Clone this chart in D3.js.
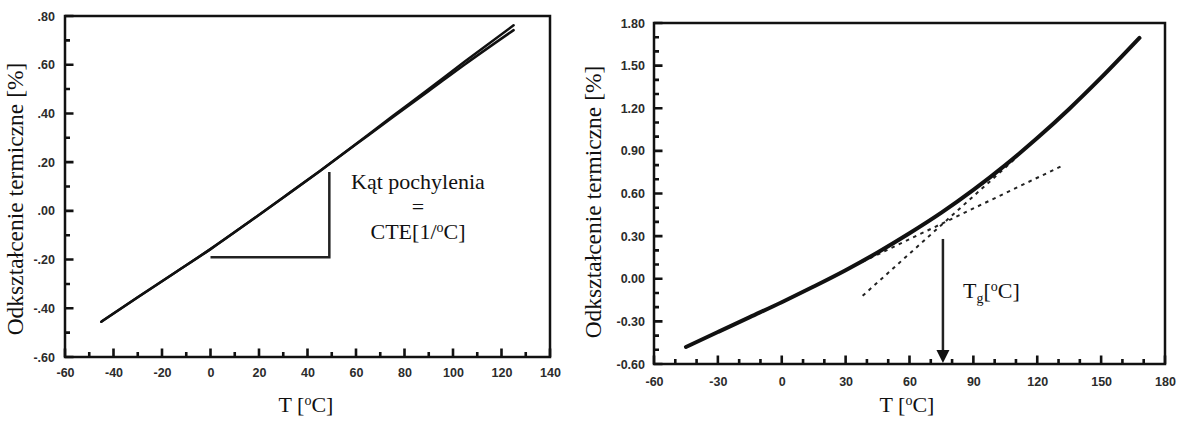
<!DOCTYPE html>
<html>
<head>
<meta charset="utf-8">
<script src="https://cdn.jsdelivr.net/npm/d3@7/dist/d3.min.js"></script>
<style>
  html, body { margin: 0; padding: 0; background: #fff; }
  svg { display: block; }
</style>
</head>
<body>
<svg id="chart" width="1189" height="421"></svg>
<script>
// ---------- DATA ----------
// Left panel: linear thermal strain (two nearly identical runs)
const leftT      = [-45, -30, -15, 0, 15, 30, 45, 60, 75, 90, 105, 125];
const leftRunA   = [-0.455, -0.355, -0.256, -0.157, -0.052, 0.055, 0.163, 0.274, 0.388, 0.500, 0.614, 0.762];
const leftRunB   = [-0.455, -0.355, -0.256, -0.157, -0.052, 0.055, 0.163, 0.273, 0.383, 0.492, 0.602, 0.742];
// slope triangle (T, strain)
const triT = [0, 49];
const triV = [-0.19, 0.16];

// Right panel: strain with glass transition
const rightT     = [-45, -30, -15, 0, 15, 30, 45, 60, 75, 90, 105, 120, 135, 150, 168];
const rightV     = [-0.48, -0.375, -0.27, -0.165, -0.055, 0.06, 0.185, 0.32, 0.465, 0.625, 0.80, 0.99, 1.195, 1.415, 1.695];
// tangent lines (dashed)
const tanGlassT  = [38, 131];
const tanGlassV  = [0.12, 0.79];
const tanRubberT = [38, 110];
const tanRubberV = [-0.12, 0.85];
// Tg arrow
const tgT = 75.7;
const tgArrowTopV = 0.28;

// axis ticks & labels
const leftXTicks  = [-60, -40, -20, 0, 20, 40, 60, 80, 100, 120, 140];
const leftXLabels = ["-60", "-40", "-20", "0", "20", "40", "60", "80", "100", "120", "140"];
const leftXMinor  = [-50, -30, -10, 10, 30, 50, 70, 90, 110, 130];
const leftYTicks  = [-0.6, -0.4, -0.2, 0, 0.2, 0.4, 0.6, 0.8];
const leftYLabels = ["-.60", "-.40", "-.20", ".00", ".20", ".40", ".60", ".80"];
const leftYMinor  = [-0.5, -0.3, -0.1, 0.1, 0.3, 0.5, 0.7];

const rightXTicks  = [-60, -30, 0, 30, 60, 90, 120, 150, 180];
const rightXLabels = ["-60", "-30", "0", "30", "60", "90", "120", "150", "180"];
const rightXMinor  = [-50, -40, -20, -10, 10, 20, 40, 50, 70, 80, 100, 110, 130, 140, 160, 170];
const rightYTicks  = [-0.6, -0.3, 0, 0.3, 0.6, 0.9, 1.2, 1.5, 1.8];
const rightYLabels = ["-0.60", "-0.30", "0.00", "0.30", "0.60", "0.90", "1.20", "1.50", "1.80"];
const rightYMinor  = [-0.5, -0.4, -0.2, -0.1, 0.1, 0.2, 0.4, 0.5, 0.7, 0.8, 1.0, 1.1, 1.3, 1.4, 1.6, 1.7];

const yTitle = "Odkształcenie termiczne [%]";

// ---------- DRAW ----------
const svg = d3.select("#chart");
const serif = "'Liberation Serif', 'Times New Roman', serif";
const sans = "'Liberation Sans', Arial, sans-serif";
const INK = "#111";

function panel(cfg) {
  const x = d3.scaleLinear().domain(cfg.xDomain).range(cfg.xRange);
  const y = d3.scaleLinear().domain(cfg.yDomain).range(cfg.yRange);
  const g = svg.append("g");
  const x0 = cfg.xRange[0], y0 = cfg.yRange[0];

  // frame
  g.append("rect")
    .attr("x", x0).attr("y", cfg.yRange[1])
    .attr("width", cfg.xRange[1] - x0)
    .attr("height", y0 - cfg.yRange[1])
    .attr("fill", "none").attr("stroke", INK).attr("stroke-width", 2.5);

  // inward ticks, positions from the scales
  const majX = cfg.xTicks.map(d => `M${x(d)},${y0}v-8.5`).join("");
  const minX = cfg.xMinor.map(d => `M${x(d)},${y0}v-5`).join("");
  const majY = cfg.yTicks.map(d => `M${x0},${y(d)}h8.5`).join("");
  const minY = cfg.yMinor.map(d => `M${x0},${y(d)}h5`).join("");
  g.append("path").attr("d", majX + minX + majY + minY)
    .attr("fill", "none").attr("stroke", INK).attr("stroke-width", 2.6);

  // tick labels via d3 axes
  const xa = g.append("g").attr("transform", `translate(0,${y0})`)
    .call(d3.axisBottom(x).tickValues(cfg.xTicks).tickSize(0).tickPadding(cfg.xPad)
      .tickFormat((d, i) => cfg.xLabels[i]));
  const ya = g.append("g").attr("transform", `translate(${x0},0)`)
    .call(d3.axisLeft(y).tickValues(cfg.yTicks).tickSize(0).tickPadding(cfg.yPad)
      .tickFormat((d, i) => cfg.yLabels[i]));
  [xa, ya].forEach(a => {
    a.select(".domain").remove();
    a.selectAll(".tick line").remove();
    a.selectAll(".tick text")
      .attr("font-family", sans).attr("font-weight", "bold").attr("font-size", 12.5)
      .attr("fill", "#2b2b2b");
  });

  // titles
  g.append("text")
    .attr("transform", `translate(${cfg.yTitleX},${cfg.yTitleY}) rotate(-90)`)
    .attr("text-anchor", "middle")
    .attr("font-family", serif).attr("font-size", 23.5).attr("fill", INK)
    .text(yTitle);
  const xt = g.append("text")
    .attr("x", cfg.xTitleX).attr("y", cfg.xTitleY)
    .attr("text-anchor", "middle")
    .attr("font-family", serif).attr("font-size", 22).attr("fill", INK);
  xt.append("tspan").text("T [");
  xt.append("tspan").attr("font-size", 14).attr("dy", -7).text("o");
  xt.append("tspan").attr("dy", 7).text("C]");

  return { g, x, y };
}

// ----- Left panel -----
const L = panel({
  xDomain: [-60, 140], xRange: [65, 550],
  yDomain: [-0.6, 0.8], yRange: [357, 16],
  xTicks: leftXTicks, xLabels: leftXLabels, xMinor: leftXMinor,
  yTicks: leftYTicks, yLabels: leftYLabels, yMinor: leftYMinor,
  xPad: 11, yPad: 10,
  yTitleX: 23, yTitleY: 199,
  xTitleX: 306, xTitleY: 412
});

const lineL = d3.line().x((d, i) => L.x(leftT[i])).y(d => L.y(d)).curve(d3.curveMonotoneX);
[leftRunA, leftRunB].forEach(run => {
  L.g.append("path").attr("d", lineL(run))
    .attr("fill", "none").attr("stroke", INK).attr("stroke-width", 2.5).attr("stroke-linecap", "round");
});

// slope triangle
L.g.append("path")
  .attr("d", `M${L.x(triT[0])},${L.y(triV[0])}H${L.x(triT[1])}V${L.y(triV[1])}`)
  .attr("fill", "none").attr("stroke", "#222").attr("stroke-width", 2.5);

// slope annotation (one multi-line text)
const annX = 418;
const ann = L.g.append("text").attr("x", annX).attr("y", 189).attr("text-anchor", "middle")
  .attr("font-family", serif).attr("font-size", 22).attr("fill", INK);
ann.append("tspan").attr("x", annX).text("Kąt pochylenia");
ann.append("tspan").attr("x", annX).attr("dy", 25).text("=");
ann.append("tspan").attr("x", annX).attr("dy", 25).text("CTE[1/");
ann.append("tspan").attr("font-size", 14).attr("dy", -7).text("o");
ann.append("tspan").attr("dy", 7).text("C]");

// ----- Right panel -----
const R = panel({
  xDomain: [-60, 180], xRange: [654, 1165],
  yDomain: [-0.6, 1.8], yRange: [364, 23],
  xTicks: rightXTicks, xLabels: rightXLabels, xMinor: rightXMinor,
  yTicks: rightYTicks, yLabels: rightYLabels, yMinor: rightYMinor,
  xPad: 13, yPad: 9,
  yTitleX: 601, yTitleY: 202,
  xTitleX: 907, xTitleY: 412
});

// tangents (dashed)
[[tanGlassT, tanGlassV], [tanRubberT, tanRubberV]].forEach(([ts, vs]) => {
  R.g.append("path")
    .attr("d", d3.line().x((d, i) => R.x(ts[i])).y(d => R.y(d))(vs))
    .attr("fill", "none").attr("stroke", "#222").attr("stroke-width", 2)
    .attr("stroke-dasharray", "3.5,4.5");
});

const lineR = d3.line().x((d, i) => R.x(rightT[i])).y(d => R.y(d)).curve(d3.curveMonotoneX);
R.g.append("path").attr("d", lineR(rightV))
  .attr("fill", "none").attr("stroke", INK).attr("stroke-width", 4).attr("stroke-linecap", "round");

// Tg arrow
const ax = R.x(tgT);
const axisY = R.y(-0.6);
R.g.append("line")
  .attr("x1", ax).attr("x2", ax)
  .attr("y1", R.y(tgArrowTopV)).attr("y2", axisY - 10)
  .attr("stroke", "#222").attr("stroke-width", 2.5);
R.g.append("path")
  .attr("d", `M${ax - 6.5},${axisY - 14}L${ax + 6.5},${axisY - 14}L${ax},${axisY - 1}Z`)
  .attr("fill", INK);

const tg = R.g.append("text").attr("x", 963).attr("y", 298)
  .attr("font-family", serif).attr("font-size", 22).attr("fill", INK);
tg.append("tspan").text("T");
tg.append("tspan").attr("font-size", 14).attr("dy", 5).text("g");
tg.append("tspan").attr("dy", -5).text("[");
tg.append("tspan").attr("font-size", 14).attr("dy", -7).text("o");
tg.append("tspan").attr("dy", 7).text("C]");
</script>
</body>
</html>
